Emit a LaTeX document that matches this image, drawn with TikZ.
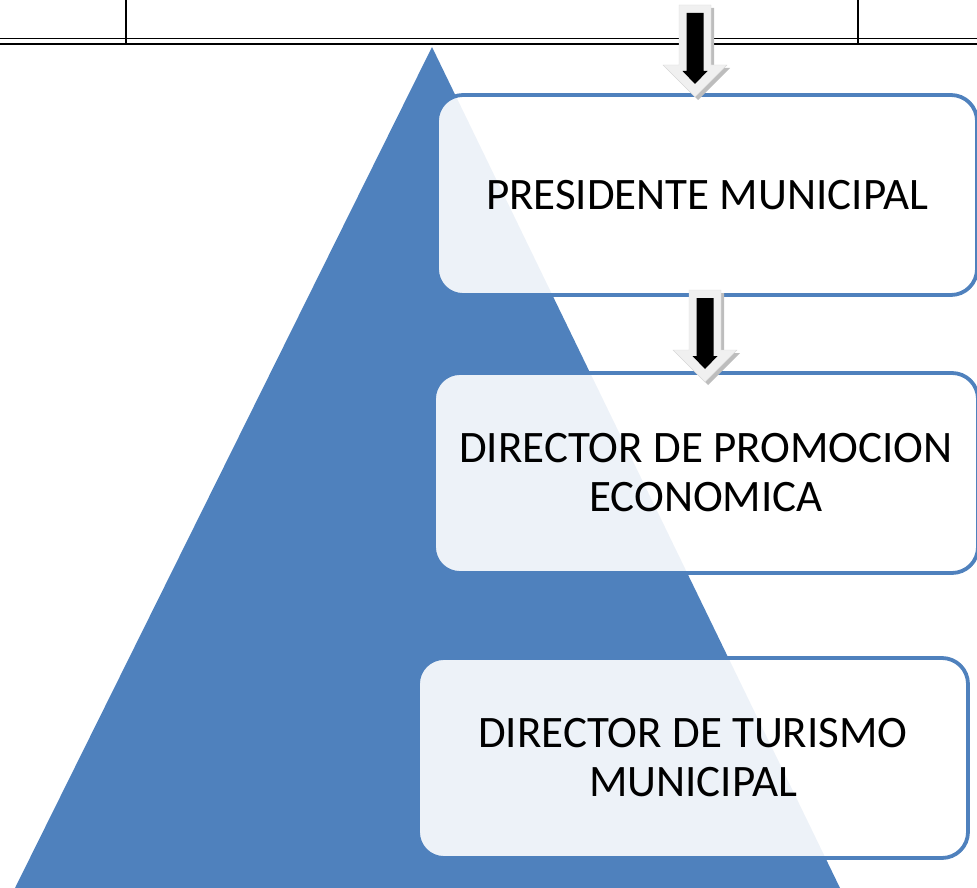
\documentclass[tikz,border=0pt]{standalone}
\usepackage{fontspec}
\setmainfont{Carlito}
\definecolor{officeblue}{HTML}{4F81BD}
\definecolor{arrowlight}{HTML}{F0F0F0}
\definecolor{arrowshade}{HTML}{BDBDBD}
\newcommand{\blkarrow}[2]{%
  % shadow
  \fill[arrowshade] (#1-16+3,#2+3) -- (#1+16+3,#2+3) -- (#1+16+3,#2+60+3) -- (#1+32+3,#2+60+3)
     -- (#1+3,#2+92+3) -- (#1-32+3,#2+60+3) -- (#1-16+3,#2+60+3) -- cycle;
  % light outer arrow
  \fill[arrowlight, draw=white!85!black, line width=0.4pt] (#1-16,#2) -- (#1+16,#2) -- (#1+16,#2+60) -- (#1+32,#2+60)
     -- (#1,#2+92) -- (#1-32,#2+60) -- (#1-16,#2+60) -- cycle;
  % black inner arrow
  \fill[black] (#1-8.5,#2+8) -- (#1+8.5,#2+8) -- (#1+8.5,#2+66) -- (#1+12.5,#2+66)
     -- (#1,#2+79) -- (#1-12.5,#2+66) -- (#1-8.5,#2+66) -- cycle;
}
\tikzset{
  box/.style={draw=officeblue, line width=3.8pt, rounded corners=26pt,
    fill=white, fill opacity=0.9, text opacity=1, text=black,
    align=center, inner sep=0pt,
    font=\fontsize{45}{49}\selectfont},
  tableline/.style={draw=black, line width=1.4pt},
}
\begin{document}
\begin{tikzpicture}[x=1pt, y=-1pt]
\useasboundingbox (0,0) rectangle (977,888);
% pyramid
\coordinate (apex) at (432,47);
\coordinate (bl) at (15,888);
\coordinate (br) at (840,888);
\fill[officeblue] (apex) -- (br) -- (bl) -- cycle;
% boxes
\node[box, minimum width=540pt, minimum height=200pt] (b1) at (707,195) {PRESIDENTE MUNICIPAL};
\node[box, minimum width=544pt, minimum height=200pt] (b2) at (706,473) {DIRECTOR DE PROMOCION\\ECONOMICA};
\node[box, minimum width=550pt, minimum height=200pt] (b3) at (693,758) {DIRECTOR DE TURISMO\\MUNICIPAL};
% table lines at top
\draw[tableline, line width=1.2pt] (0,38.5) -- (977,38.5);
\draw[tableline, line width=1.8pt] (0,44) -- (977,44);
\draw[tableline, line width=1.2pt] (126,0) -- (126,44);
\draw[tableline, line width=1.2pt] (858,0) -- (858,44);
% block arrows
\blkarrow{695}{5}
\blkarrow{705}{290}
\end{tikzpicture}
\end{document}
